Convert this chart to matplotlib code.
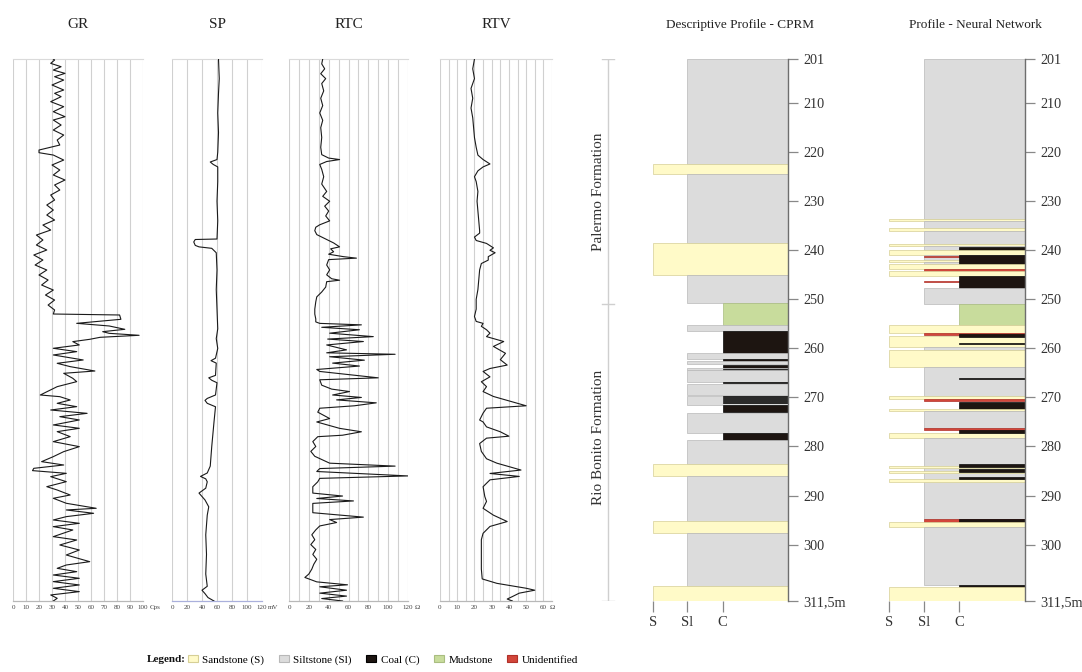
import matplotlib
matplotlib.use('Agg')
import matplotlib.pyplot as plt
from matplotlib.patches import Patch
import numpy as np

plt.rcParams['font.family'] = ['Liberation Serif', 'DejaVu Serif']

# ---------------- data ----------------
DEPTH_TOP, DEPTH_BASE = 201.0, 311.5

gr_depth = [201.0, 201.21, 201.89, 202.57, 203.25, 203.93, 204.61, 205.29, 206.3, 207.32, 208.0, 208.68,
            209.7, 210.72, 211.74, 212.76, 213.44, 214.46, 215.48, 216.5, 217.52, 218.54, 219.56, 220.1,
            220.58, 221.6, 222.61, 223.63, 224.65, 225.67, 226.69, 227.71, 228.73, 229.75, 230.77, 231.79,
            232.81, 233.83, 234.85, 235.87, 236.89, 237.9, 238.92, 239.94, 240.96, 241.98, 243.0, 244.02,
            245.04, 246.06, 247.08, 248.1, 249.12, 250.14, 251.16, 252.17, 252.99,
            253.19, 254.07, 254.89, 255.43, 256.11, 256.59, 256.93, 257.33, 257.74, 258.15, 258.62, 259.3,
            259.98, 260.66, 261.34, 262.36, 263.04, 263.72, 264.61, 265.08, 266.1, 266.78, 267.8, 269.5,
            269.84, 270.52, 271.2, 271.88, 272.56, 273.24, 273.92, 274.59, 275.61, 276.29, 276.97, 277.99,
            279.01, 280.03, 281.05, 282.07, 283.09, 283.77, 284.45, 284.92, 285.47, 286.15, 287.17, 288.19,
            288.87, 289.89, 290.56, 291.58, 292.6, 292.94, 293.62, 294.3, 294.98, 295.66, 296.34, 297.02,
            298.38, 299.06, 300.08, 301.1, 302.12, 303.48, 304.16, 304.84, 305.52, 306.2, 306.87, 307.55,
            308.23, 308.91, 309.59, 310.27, 310.95, 311.5]
gr_value = [31, 32, 29, 37, 31, 40, 32, 39, 30, 39, 32, 37,
            29, 39, 31, 40, 31, 37, 31, 39, 34, 36, 20, 20,
            31, 39, 30, 36, 31, 40, 32, 36, 29, 32, 26, 31,
            26, 32, 23, 29, 18, 23, 18, 26, 16, 23, 17, 26,
            20, 27, 22, 31, 25, 32, 27, 32, 31,
            82, 83, 49, 74, 86, 69, 74, 97, 67, 59, 46, 51,
            31, 49, 31, 54, 34, 44, 63, 39, 46, 49, 34, 21,
            36, 44, 34, 49, 29, 57, 36, 51, 31, 51, 34, 44,
            31, 51, 39, 31, 22, 39, 16, 15, 41, 29, 41, 26,
            34, 44, 31, 41, 64, 41, 62, 41, 31, 51, 31, 46,
            31, 49, 36, 51, 41, 59, 41, 34, 49, 31, 51, 31,
            51, 31, 51, 29, 34, 31]

sp_depth = [201.0, 205.0, 208.0, 212.0, 216.0, 220.0, 221.5, 222.0, 222.5, 223.0, 226.0, 230.0, 234.0,
            237.7, 237.8, 238.3, 239.0, 239.3, 239.6, 240.5, 244.0, 248.0, 252.0, 256.0, 258.0, 260.0,
            262.0, 262.5, 263.0, 265.5, 266.0, 266.5, 267.0, 269.5, 270.2, 270.6, 271.2, 271.9, 275.0,
            280.0, 284.0, 285.4, 286.1, 286.6, 287.2, 288.5, 289.5, 290.2, 290.9, 292.3, 294.0, 298.0,
            302.0, 306.0, 308.5, 309.3, 310.0, 310.8, 311.5]
sp_value = [62, 63, 62, 61, 62, 61, 60, 51, 55, 61, 61, 60, 61,
            60, 31, 29, 31, 36, 53, 59, 60, 59, 60, 61, 59, 61,
            58, 52, 59, 58, 49, 53, 60, 58, 47, 44, 47, 58, 56,
            53, 51, 47, 38, 45, 47, 45, 36, 40, 44, 49, 47, 45,
            46, 45, 47, 40, 44, 48, 56]

rtc_depth = [201.0, 202.0, 203.0, 204.0, 205.0, 206.0, 207.5, 209.0, 210.5, 212.0, 213.5, 215.0, 217.0,
             219.0, 220.5, 221.2, 221.5, 221.9, 222.5, 223.5, 225.0, 226.5, 228.0, 229.0, 230.0, 231.0,
             232.0, 233.0, 234.0, 234.8, 235.3, 236.0, 236.8, 237.5, 238.0, 238.5, 239.3, 239.7, 240.3,
             240.8, 241.3, 241.6, 241.9, 243.0, 244.0, 245.0, 245.8, 246.1, 246.4, 247.5, 248.5, 249.5,
             250.5, 252.0, 253.0, 254.0, 254.6,
             254.9, 255.2, 255.7, 256.2, 256.9, 257.6, 258.1, 258.6, 259.3, 260.3, 260.9, 261.2, 261.7,
             262.4, 263.0, 263.6, 264.3, 264.7, 266.0, 266.4, 267.5, 268.3, 268.8, 269.5, 270.0, 270.5,
             271.1, 271.7, 272.2, 273.0, 274.3, 275.0, 276.3, 277.0, 277.7, 278.0, 279.0, 280.0, 281.0,
             282.0, 283.4, 284.0, 284.5, 285.1, 286.0, 286.5, 287.2, 288.2, 289.5, 290.1, 290.6, 291.1,
             291.6, 293.5, 294.4, 294.9, 295.5, 296.2, 297.0, 298.0, 299.0, 300.0, 301.0, 302.0, 303.0,
             304.0, 305.0, 306.0, 306.7, 307.6, 308.2, 308.6, 309.3, 309.9, 310.5, 311.0, 311.5]
rtc_value = [34, 33, 36, 32, 37, 33, 35, 32, 34, 31, 34, 32, 33,
             32, 33, 40, 51, 38, 31, 33, 35, 33, 38, 34, 41, 36,
             40, 37, 41, 31, 27, 26, 28, 35, 40, 45, 51, 42, 45,
             40, 55, 68, 40, 38, 41, 38, 43, 51, 38, 37, 33, 28,
             27, 26, 26, 27, 27,
             31, 73, 33, 71, 41, 85, 39, 75, 38, 58, 38, 107, 41,
             76, 44, 71, 28, 31, 90, 31, 33, 43, 61, 44, 73, 48,
             88, 66, 31, 29, 41, 28, 51, 73, 54, 29, 24, 27, 22,
             26, 41, 107, 31, 28, 120, 31, 29, 24, 24, 54, 28, 65,
             24, 24, 75, 41, 48, 31, 27, 23, 26, 22, 27, 24, 28,
             25, 23, 20, 16, 28, 59, 31, 58, 31, 58, 33, 54]

rtv_depth = [201.0, 203.0, 205.0, 207.0, 209.0, 211.0, 213.0, 215.0, 217.0, 219.0, 220.6, 221.5, 222.4,
             223.0, 223.8, 225.0, 226.0, 228.0, 230.0, 232.0, 234.0, 236.0, 236.5, 237.3, 238.0, 238.6,
             239.5, 240.0, 240.5, 241.3, 242.0, 242.7, 244.0, 246.0, 248.0, 250.0, 252.0, 253.5, 254.5,
             254.9, 255.5, 256.2, 256.9, 257.6, 258.6, 259.6, 261.0, 262.3, 263.4, 264.1, 264.7, 265.8,
             266.8, 267.8, 268.8, 269.8, 270.9, 271.7, 272.2, 273.2, 274.6, 275.0, 276.0, 277.0, 277.9,
             278.3, 279.4, 281.0, 282.5, 283.4, 284.8, 285.5, 286.1, 286.8, 288.2, 290.2, 291.2, 292.6,
             294.0, 295.3, 296.3, 297.7, 299.0, 302.0, 305.0, 307.0, 307.9, 308.9, 309.3, 309.9, 310.6,
             311.1, 311.5]
rtv_value = [20, 19, 20, 18, 19, 18, 19, 19.5, 20, 21, 22, 25, 29,
             25, 22, 20, 21, 22, 21.5, 22, 22.5, 23, 23, 20, 21, 27,
             31, 29, 32, 28, 28, 24, 23, 22.5, 22, 21, 21, 20, 21,
             25, 24, 27, 29, 27, 37, 31, 38, 35, 39, 29, 25, 29,
             24, 27, 25, 31, 42, 50, 27, 25, 23, 25, 27, 35, 40,
             27, 23, 24, 27, 33, 47, 29, 46, 29, 25, 26, 27, 25,
             31, 39, 29, 25, 24, 24, 24, 24.5, 33, 50, 55, 46, 42,
             39, 42]

# Descriptive profile (CPRM): layer tops, bases, lithology
cprm_top = [201.0, 222.5, 224.4, 238.6, 245.1, 250.8, 255.2, 256.5, 260.9, 262.2, 262.5, 263.3, 264.0,
            264.2, 264.5, 266.8, 267.3, 269.7, 269.8, 270.2, 270.6, 271.0, 271.5, 273.1, 277.3, 278.6,
            283.6, 286.0, 295.2, 297.6, 308.4]
cprm_base = [222.5, 224.4, 238.6, 245.1, 250.8, 255.2, 256.4, 260.9, 262.2, 262.5, 263.2, 264.0, 264.5,
             264.4, 266.8, 267.1, 269.5, 271.5, 270.0, 270.35, 270.75, 271.15, 272.9, 277.3, 278.6, 283.6,
             286.0, 295.2, 297.6, 308.4, 311.5]
cprm_lith = ['Sl', 'S', 'Sl', 'S', 'Sl', 'Md', 'Sl', 'C', 'Sl', 'C', 'Sl', 'C', 'Sl',
             'C', 'Sl', 'C', 'Sl', 'Sl', 'C', 'C', 'C', 'C', 'C', 'Sl', 'C', 'Sl',
             'S', 'Sl', 'S', 'Sl', 'S']

# Neural-network profile
nn_top = [201.0, 233.7, 234.0, 235.5, 236.0, 238.8, 239.1, 239.4, 239.9, 241.0, 241.1, 241.9, 242.3,
          241.0, 242.8, 243.8, 244.3, 246.2, 245.3, 247.7, 250.9, 255.2, 256.9, 257.4, 257.1, 259.0,
          259.7, 260.3, 263.7, 266.0, 269.8, 270.3, 271.0, 272.4, 272.7, 276.3, 277.3, 276.6, 278.2,
          284.0, 283.6, 284.9, 284.5, 286.7, 286.2, 294.7, 294.75, 295.3, 296.5, 308.2, 308.6]
nn_base = [233.7, 234.0, 235.5, 236.0, 238.8, 239.1, 239.9, 239.9, 241.0, 241.9, 241.4, 242.3, 242.8,
           242.8, 243.8, 244.3, 245.2, 246.5, 247.7, 250.9, 255.2, 256.9, 257.3, 259.7, 257.7, 259.2,
           260.3, 263.7, 269.8, 266.2, 270.3, 270.7, 272.4, 272.7, 276.3, 276.6, 278.2, 277.3, 294.7,
           284.4, 284.1, 285.5, 285.1, 287.2, 286.7, 295.3, 295.3, 296.5, 308.2, 308.6, 311.5]
nn_lith = ['Sl', 'S', 'Sl', 'S', 'Sl', 'S', 'Sl', 'C', 'S', 'Sl', 'U', 'S', 'Sl',
           'C', 'S', 'U', 'S', 'U', 'C', 'Sl', 'Md', 'S', 'U', 'S', 'C', 'C',
           'Sl', 'S', 'Sl', 'C', 'S', 'U', 'C', 'S', 'Sl', 'U', 'S', 'C', 'Sl',
           'S', 'C', 'S', 'C', 'S', 'C', 'U', 'C', 'S', 'Sl', 'C', 'S']

formation_bounds = [201.0, 250.9, 311.5]
formation_names = ['Palermo Formation', 'Rio Bonito Formation']

depth_ticks = [201, 210, 220, 230, 240, 250, 260, 270, 280, 290, 300, 311.5]
depth_labels = ['201', '210', '220', '230', '240', '250', '260', '270', '280', '290', '300', '311,5m']

legend_keys = ['S', 'Sl', 'C', 'Md', 'U']
legend_labels = ['Sandstone (S)', 'Siltstone (Sl)', 'Coal (C)', 'Mudstone', 'Unidentified']

# ---------------- styling ----------------
FACE = {'S': '#fffac8', 'Sl': '#dcdcdc', 'C': '#1d1511', 'Md': '#c8dc9c', 'U': '#d2463a'}
EDGE = {'S': '#d6cf96', 'Sl': '#b8b8b8', 'C': '#0a0a0a', 'Md': '#a9bd80', 'U': '#b03028'}
START = {'S': 0.0, 'Sl': 0.257, 'C': 0.516, 'Md': 0.516, 'U': 0.257}

W, H = 1082, 672
fig = plt.figure(figsize=(W / 100, H / 100), dpi=100)


def px_axes(x0, x1, y0, y1):
    return fig.add_axes([x0 / W, 1 - y1 / H, (x1 - x0) / W, (y1 - y0) / H])


TOP_PX, BOT_PX = 59, 601


def log_track(x0, x1, title, depth, values, vmax, grid_step, label_step, unit, bottom_color):
    ax = px_axes(x0, x1, TOP_PX, BOT_PX)
    ax.set_xlim(0, vmax)
    ax.set_ylim(DEPTH_BASE, DEPTH_TOP)
    for g in np.arange(0, vmax + 1e-6, grid_step):
        ax.axvline(g, color='#d0d0d0', lw=0.8, zorder=0)
    ax.plot(values, depth, color='#1a1a1a', lw=0.8, zorder=3)
    for s in ['left', 'right']:
        ax.spines[s].set_visible(False)
    ax.spines['top'].set_color('#dadada')
    ax.spines['top'].set_linewidth(0.8)
    ax.spines['bottom'].set_color(bottom_color)
    ax.spines['bottom'].set_linewidth(0.9)
    ticks = np.arange(0, vmax + 1e-6, label_step)
    ax.set_xticks(ticks)
    ax.set_xticklabels([f'{t:g}' for t in ticks])
    ax.tick_params(axis='x', length=0, labelsize=5, pad=3, colors='#444444')
    ax.set_yticks([])
    last = ticks[-1]
    ax.annotate(unit, xy=(last, DEPTH_BASE), xytext=(4.6, -3), textcoords='offset points',
                ha='left', va='top', fontsize=5, color='#444444', annotation_clip=False)
    fig.text((x0 + x1) / 2 / W, 1 - 25 / H, title, ha='center', va='center', fontsize=11, color='#222222')
    return ax


log_track(13, 143, 'GR', gr_depth, gr_value, 100, 10, 10, 'Cps', '#b8b8b8')
log_track(172, 262, 'SP', sp_depth, sp_value, 120, 20, 20, 'mV', '#aab0dc')
log_track(289, 408, 'RTC', rtc_depth, rtc_value, 120, 10, 20, 'Ω', '#b8b8b8')
log_track(440, 552, 'RTV', rtv_depth, rtv_value, 65, 5, 10, 'Ω', '#b8b8b8')


def profile(x0, x1, title, title_x, tops, bases, liths):
    ax = px_axes(x0, x1, TOP_PX, BOT_PX)
    ax.set_xlim(0, 1)
    ax.set_ylim(DEPTH_BASE, DEPTH_TOP)
    t = np.array(tops)
    b = np.array(bases)
    ax.barh((t + b) / 2, [1 - START[l] for l in liths], height=b - t,
            left=[START[l] for l in liths], color=[FACE[l] for l in liths],
            edgecolor=[EDGE[l] for l in liths], linewidth=0.5, zorder=2)
    for s in ['left', 'top', 'bottom']:
        ax.spines[s].set_visible(False)
    ax.spines['right'].set_color('#6e6e6e')
    ax.spines['right'].set_linewidth(1.0)
    ax.spines['right'].set_zorder(5)
    ax.yaxis.tick_right()
    ax.set_yticks(depth_ticks)
    ax.set_yticklabels(depth_labels)
    ax.tick_params(axis='y', length=7, width=0.9, color='#888888', labelsize=10.2, pad=4,
                   labelcolor='#333333')
    ax.set_xticks([START['S'], START['Sl'], START['C']])
    ax.set_xticklabels(['S', 'Sl', 'C'])
    ax.tick_params(axis='x', length=8, width=0.9, color='#888888', labelsize=10.5, pad=3,
                   labelcolor='#333333')
    fig.text(title_x / W, 1 - 25 / H, title, ha='center', va='center', fontsize=9.5, color='#222222')
    return ax


profile(652.7, 788, 'Descriptive Profile - CPRM', 740, cprm_top, cprm_base, cprm_lith)
profile(889, 1025, 'Profile - Neural Network', 975, nn_top, nn_base, nn_lith)

# formation bracket
axf = px_axes(586, 630, TOP_PX, BOT_PX)
axf.set_xlim(0, 1)
axf.set_ylim(DEPTH_BASE, DEPTH_TOP)
axf.axis('off')
axf.plot([0.5, 0.5], [formation_bounds[0], formation_bounds[-1]], color='#cfcfcf', lw=1.0)
for fb in formation_bounds:
    axf.plot([0.36, 0.64], [fb, fb], color='#cfcfcf', lw=1.0)
label_px = [192, 437]
for name, ypx in zip(formation_names, label_px):
    fig.text(598 / W, 1 - ypx / H, name, rotation=90, ha='center', va='center',
             fontsize=11, color='#333333')

# legend
fig.text(147 / W, 1 - 660 / H, 'Legend:', fontsize=8, fontweight='bold', ha='left', va='center',
         color='#111111')
handles = [Patch(facecolor=FACE[k], edgecolor=EDGE[k] if k != 'C' else '#000000', linewidth=0.8)
           for k in legend_keys]
fig.legend(handles, legend_labels, loc='center left', bbox_to_anchor=(188 / W, 1 - 660 / H),
           ncol=5, frameon=False, fontsize=8, handlelength=0.9, handleheight=0.5,
           handletextpad=0.4, columnspacing=1.3, borderaxespad=0, borderpad=0)

fig.savefig('out.png', dpi=100)
